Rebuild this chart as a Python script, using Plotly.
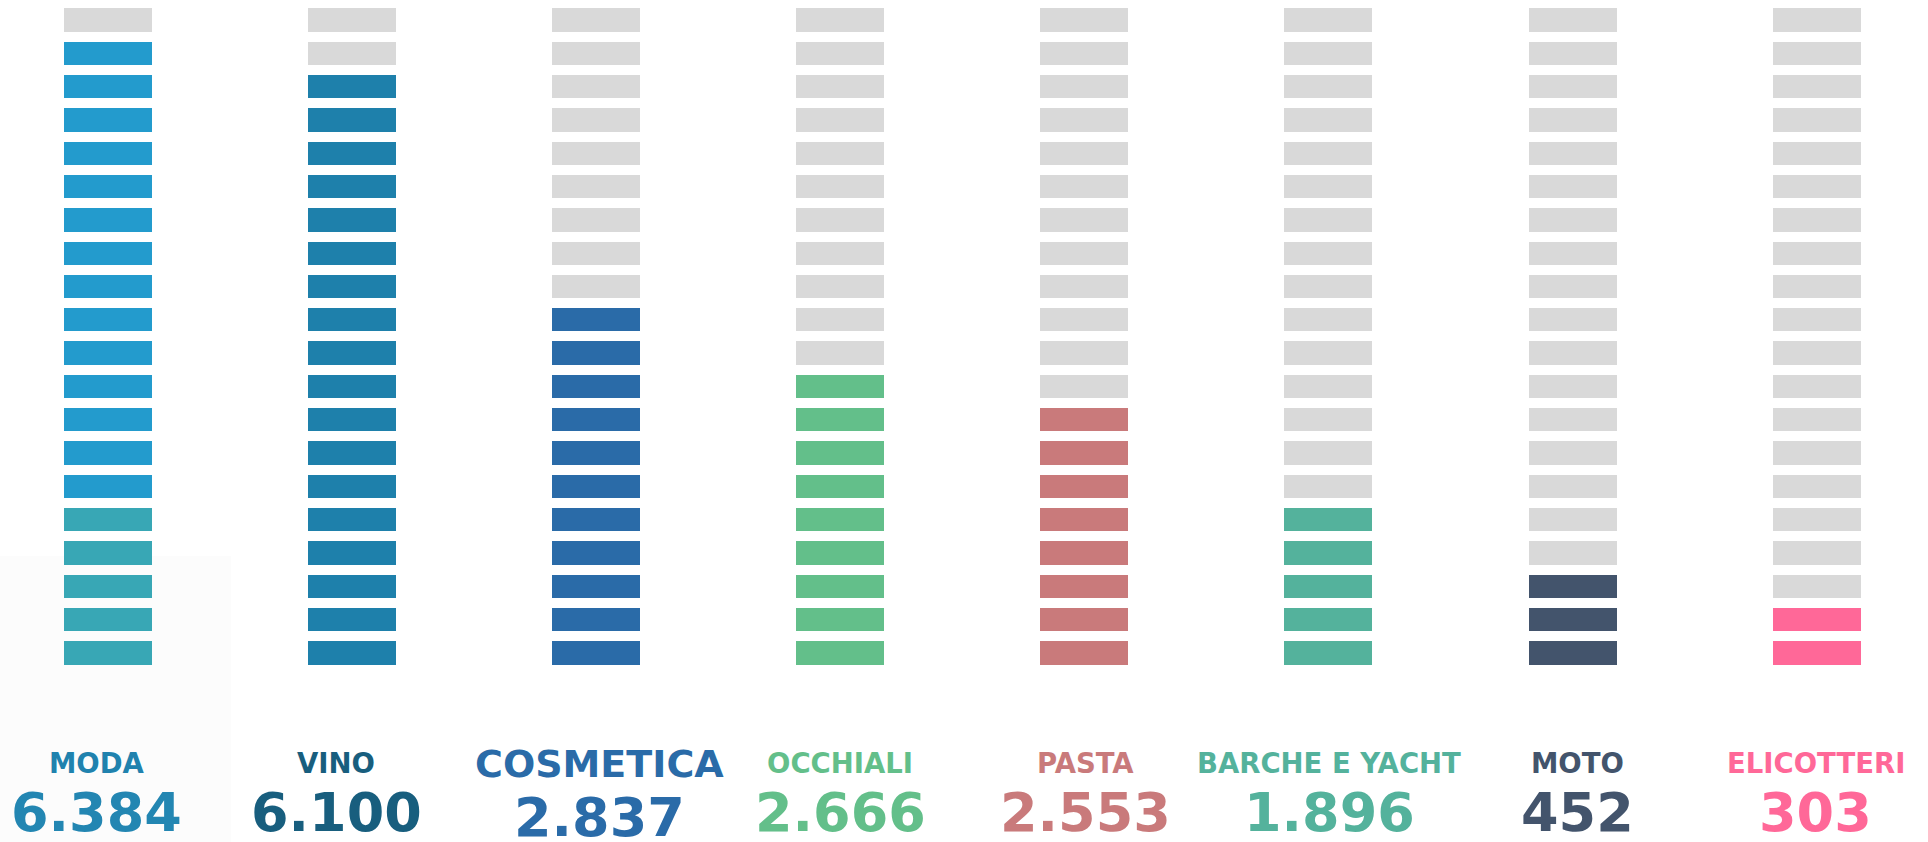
import plotly.graph_objects as go

# ---- data ----
categories = ["MODA", "VINO", "COSMETICA", "OCCHIALI", "PASTA", "BARCHE E YACHT", "MOTO", "ELICOTTERI"]
values = [6384, 6100, 2837, 2666, 2553, 1896, 452, 303]
filled_cells = [19, 18, 11, 9, 8, 5, 3, 2]       # coloured cells per column
lower_cells = [5, 0, 0, 0, 0, 0, 0, 0]           # of which drawn in the secondary colour (bottom)
total_cells = 20

# ---- style ----
bar_colors = ["#239BCD", "#1E80AB", "#2A6BA8", "#63BF8A", "#C97A7B", "#54B29C", "#43546C", "#FF6898"]
lower_colors = ["#38A7B5", None, None, None, None, None, None, None]
label_colors = ["#2082AE", "#185E7E", "#2A6BA8", "#63BF8A", "#C97A7B", "#54B29C", "#43546C", "#FF6898"]
number_colors = ["#2386B2", "#185E7E", "#2A6BA8", "#63BF8A", "#C97A7B", "#54B29C", "#43546C", "#FF6898"]
label_sizes = [27.5, 27.5, 38, 27.5, 27.5, 27.5, 27.5, 27.5]
label_xshift = [-11, -16, 3, 0, 1, 1, 5, -1]
number_yshift = [0, 0, -5, 0, 0, 0, 0, 0]
label_yshift = [0, 0, -1, 0, 0, 0, 0, 0]
empty_color = "#D9D9D9"
cell_h = 0.7
cell_w = 0.3605
FONT = "DejaVu Sans"

fig = go.Figure()

for i, cat in enumerate(categories):
    n_fill = filled_cells[i]
    n_low = lower_cells[i]
    low_rows = list(range(0, n_low))
    main_rows = list(range(n_low, n_fill))
    empty_rows = list(range(n_fill, total_cells))
    groups = [(empty_rows, empty_color), (main_rows, bar_colors[i])]
    if n_low:
        groups.append((low_rows, lower_colors[i]))
    for rows, col in groups:
        if not rows:
            continue
        fig.add_trace(go.Bar(
            x=[i] * len(rows), y=[cell_h] * len(rows), base=rows,
            width=cell_w, marker=dict(color=col, line=dict(width=0)),
            hoverinfo="skip", showlegend=False,
        ))

annotations = []
for i, cat in enumerate(categories):
    annotations.append(dict(
        x=i, xref="x", y=0.0938, yref="paper", text=cat, showarrow=False,
        xanchor="center", yanchor="middle", xshift=label_xshift[i], yshift=label_yshift[i],
        font=dict(family=FONT, size=label_sizes[i], color=label_colors[i], weight="bold"),
    ))
    annotations.append(dict(
        x=i, xref="x", y=0.0345, yref="paper", text=f"{values[i]:,}".replace(",", "."),
        showarrow=False, xanchor="center", yanchor="middle",
        xshift=label_xshift[i], yshift=number_yshift[i],
        font=dict(family=FONT, size=54, color=number_colors[i], weight="bold"),
    ))

fig.update_layout(
    width=1928, height=842,
    margin=dict(l=0, r=0, t=0, b=0),
    paper_bgcolor="white", plot_bgcolor="rgba(0,0,0,0)",
    barmode="overlay", bargap=0,
    xaxis=dict(range=[-0.4424, 7.4561], visible=False, fixedrange=True),
    yaxis=dict(range=[-5.322, 19.948], visible=False, fixedrange=True),
    annotations=annotations,
    shapes=[dict(type="rect", xref="paper", yref="paper", x0=0, x1=231 / 1928, y0=0, y1=1 - 556 / 842,
                 fillcolor="#FCFCFC", line=dict(width=0), layer="below")],
)

fig.write_html("out.html")
